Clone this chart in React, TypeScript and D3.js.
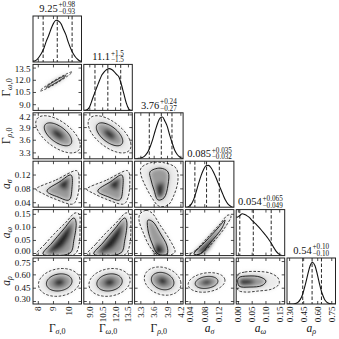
import { useEffect, useRef } from "react";
import * as d3 from "d3";

// ---- parameters (corner order) ----
const paramBase = ["Γ", "Γ", "Γ", "a", "a", "a"];
const paramSubGreek = ["σ", "ω", "ρ", "σ", "ω", "ρ"];
const paramSubRest = [",0", ",0", ",0", "", "", ""];

const ranges: [number, number][] = [
  [7.65, 10.85],
  [8.3, 13.95],
  [3.16, 4.25],
  [0.027, 0.16],
  [-0.008, 0.168],
  [0.272, 0.79],
];
const tickValues = [
  [8, 9, 10],
  [9.0, 10.5, 12.0, 13.5],
  [3.3, 3.6, 3.9, 4.2],
  [0.04, 0.08, 0.12],
  [0.0, 0.05, 0.1, 0.15],
  [0.3, 0.45, 0.6, 0.75],
];
const tickDigits = [0, 1, 1, 2, 2, 2];

// marginal summaries (median, +err, -err)
const medians = [9.25, 11.1, 3.76, 0.085, 0.054, 0.54];
const errUp = [0.98, 1.5, 0.24, 0.035, 0.065, 0.1];
const errDown = [0.93, 1.5, 0.27, 0.032, 0.049, 0.1];
const titleDigits = [2, 1, 2, 3, 3, 2];

// 1D histograms (20 equal bins over each range, normalised to peak)
const histGs = [0.02, 0.05, 0.12, 0.21, 0.33, 0.5, 0.64, 0.8, 0.93, 1.0, 0.98, 0.92, 0.79, 0.66, 0.48, 0.33, 0.21, 0.12, 0.06, 0.02];
const histGw = [0.0, 0.02, 0.1, 0.26, 0.42, 0.57, 0.72, 0.85, 0.93, 0.98, 1.0, 0.98, 0.93, 0.86, 0.8, 0.62, 0.4, 0.18, 0.04, 0.0];
const histGr = [0.0, 0.01, 0.02, 0.04, 0.09, 0.17, 0.3, 0.47, 0.67, 0.85, 0.97, 1.0, 0.9, 0.77, 0.56, 0.38, 0.21, 0.11, 0.05, 0.01];
const histAs = [0.0, 0.02, 0.08, 0.2, 0.38, 0.58, 0.76, 0.9, 0.99, 1.0, 0.95, 0.85, 0.72, 0.58, 0.44, 0.3, 0.17, 0.08, 0.03, 0.0];
const histAw = [0.92, 0.96, 1.0, 0.98, 0.95, 0.91, 0.84, 0.79, 0.73, 0.67, 0.6, 0.53, 0.46, 0.38, 0.29, 0.19, 0.1, 0.04, 0.01, 0.0];
const histAr = [0.0, 0.0, 0.0, 0.01, 0.04, 0.11, 0.24, 0.45, 0.69, 0.91, 1.0, 0.92, 0.71, 0.46, 0.25, 0.11, 0.04, 0.01, 0.0, 0.0];
const hists = [histGs, histGw, histGr, histAs, histAw, histAr];

// 2D posteriors that look gaussian: [row param, col param], centre, sd, correlation
const ellipseCells: [number, number][] = [[1, 0], [2, 0], [2, 1], [5, 0], [5, 1], [5, 2], [5, 3]];
const ellipseCenters = [[9.17, 11.85], [9.3, 3.74], [11.3, 3.74], [9.38, 0.515], [11.3, 0.515], [3.79, 0.53], [0.085, 0.515]];
const ellipseSds = [[0.43, 0.48], [0.6, 0.18], [1.02, 0.18], [0.56, 0.064], [0.98, 0.064], [0.168, 0.065], [0.0206, 0.045]];
const ellipseRho = [0.98, -0.6, -0.6, 0.15, 0.15, -0.2, 0.2];
const contourLevels = [0.95, 0.68, 0.2]; // outer (dashed), inner (solid), core shading

// skewed 2D posteriors, contours: [x, y] in data units
const asGsOuter = [[7.85, 0.0788], [9.17, 0.1057], [10.49, 0.133], [10.62, 0.129], [10.69, 0.091], [10.55, 0.0536], [10.29, 0.0363], [9.1, 0.0507], [8.24, 0.068]];
const asGsInner = [[8.57, 0.0737], [9.43, 0.101], [10.16, 0.12], [10.22, 0.0825], [10.03, 0.048], [9.3, 0.0565]];
const asGsCore = [[9.3, 0.094], [9.96, 0.111], [9.83, 0.077]];

const asGwOuter = [[8.65, 0.0788], [10.98, 0.1057], [13.31, 0.133], [13.54, 0.129], [13.66, 0.091], [13.43, 0.0536], [12.96, 0.0363], [10.86, 0.0507], [9.35, 0.068]];
const asGwInner = [[9.93, 0.0737], [11.45, 0.101], [12.73, 0.12], [12.84, 0.0825], [12.49, 0.048], [11.21, 0.0565]];
const asGwCore = [[11.21, 0.094], [12.38, 0.111], [12.14, 0.077]];

const awGsOuter = [[7.88, -0.003], [8.44, 0.036], [9.1, 0.078], [9.83, 0.12], [10.42, 0.155], [10.69, 0.151], [10.75, 0.098], [10.69, 0.036], [10.42, -0.002], [9.1, -0.006]];
const awGsInner = [[8.31, -0.002], [8.9, 0.04], [9.63, 0.09], [10.35, 0.136], [10.49, 0.12], [10.35, 0.052], [10.09, 0.002]];
const awGsCore = [[8.64, 0.004], [9.3, 0.059], [10.09, 0.113], [10.16, 0.082], [9.56, 0.021]];

const awGwOuter = [[8.71, -0.003], [9.7, 0.036], [10.86, 0.078], [12.14, 0.12], [13.19, 0.155], [13.66, 0.151], [13.78, 0.098], [13.66, 0.036], [13.19, -0.002], [10.86, -0.006]];
const awGwInner = [[9.47, -0.002], [10.51, 0.04], [11.8, 0.09], [13.08, 0.136], [13.31, 0.12], [13.08, 0.052], [12.61, 0.002]];
const awGwCore = [[10.05, 0.004], [11.21, 0.059], [12.61, 0.113], [12.73, 0.082], [11.68, 0.021]];

const asGrOuter = [[3.304, 0.14], [3.506, 0.155], [3.843, 0.155], [4.09, 0.14], [4.135, 0.106], [4.045, 0.062], [3.91, 0.033], [3.708, 0.03], [3.551, 0.054], [3.394, 0.091], [3.304, 0.12]];
const asGrInner = [[3.506, 0.129], [3.731, 0.14], [3.91, 0.129], [3.91, 0.091], [3.821, 0.054], [3.686, 0.048], [3.596, 0.077], [3.529, 0.106]];
const asGrCore = [[3.663, 0.091], [3.798, 0.097], [3.776, 0.059], [3.663, 0.059]];

const awGrOuter = [[3.281, 0.151], [3.416, 0.165], [3.551, 0.155], [3.731, 0.109], [3.955, 0.051], [4.068, 0.006], [3.955, -0.006], [3.686, -0.006], [3.506, 0.025], [3.349, 0.082], [3.259, 0.128]];
const awGrInner = [[3.461, 0.128], [3.573, 0.121], [3.731, 0.079], [3.888, 0.029], [3.888, -0.002], [3.686, -0.002], [3.551, 0.04], [3.461, 0.09]];
const awGrCore = [[3.618, 0.033], [3.776, 0.029], [3.798, -0.002], [3.618, -0.002]];

const awAsOuter = [[0.0369, -0.006], [0.0561, 0.0134], [0.089, 0.0632], [0.1219, 0.1129], [0.1438, 0.1473], [0.152, 0.1435], [0.1383, 0.1053], [0.1082, 0.0517], [0.0753, 0.0058], [0.0561, -0.006]];
const awAsInner = [[0.0506, -0.002], [0.0835, 0.0479], [0.1164, 0.0976], [0.1356, 0.1282], [0.1274, 0.0976], [0.0945, 0.0402], [0.067, -0.002]];
const awAsCore = [[0.0615, 0.0058], [0.1, 0.0632], [0.1191, 0.09], [0.1054, 0.0517], [0.0753, 0.002]];

const arAwOuter = [[-0.0033, 0.599], [0.0239, 0.632], [0.0711, 0.638], [0.1147, 0.621], [0.1437, 0.565], [0.1473, 0.497], [0.1219, 0.441], [0.0711, 0.418], [0.0239, 0.407], [-0.0015, 0.43]];
const arAwInner = [[0.0003, 0.565], [0.0348, 0.587], [0.0784, 0.576], [0.1001, 0.531], [0.0856, 0.48], [0.0421, 0.463], [0.0022, 0.475]];
const arAwCore = [[0.004, 0.542], [0.0421, 0.548], [0.0602, 0.52], [0.0348, 0.486], [0.0058, 0.492]];

const polygonCells: [number, number][] = [[3, 0], [3, 1], [4, 0], [4, 1], [3, 2], [4, 2], [4, 3], [5, 4]];
const polygonContours = [
  [asGsOuter, asGsInner, asGsCore],
  [asGwOuter, asGwInner, asGwCore],
  [awGsOuter, awGsInner, awGsCore],
  [awGwOuter, awGwInner, awGwCore],
  [asGrOuter, asGrInner, asGrCore],
  [awGrOuter, awGrInner, awGrCore],
  [awAsOuter, awAsInner, awAsCore],
  [arAwOuter, arAwInner, arAwCore],
];

const FONT = "'Liberation Serif', 'DejaVu Serif', serif";
const LEFT = 33;
const TOP = 16;
const PITCH_X = 50.8;
const PITCH_Y = 48.4;
const PW = 48.5;
const PH = 46;
const shadeColors = ["#ebebeb", "#9a9a9a", "#222222"];

function ellipsePoints(c: number[], sd: number[], rho: number, level: number) {
  const k = Math.sqrt(-2 * Math.log(1 - level));
  const s = Math.sqrt(1 - rho * rho);
  return d3.range(0, 72).map((i) => {
    const t = (i / 72) * 2 * Math.PI;
    const u = Math.cos(t);
    const v = Math.sin(t);
    return [c[0] + k * sd[0] * u, c[1] + k * sd[1] * (rho * u + s * v)];
  });
}

export default function App() {
  const ref = useRef<SVGSVGElement>(null);

  useEffect(() => {
    const svg = d3.select(ref.current);
    svg.selectAll("*").remove();
    const defs = svg.append("defs");
    defs
      .append("filter")
      .attr("id", "soft")
      .attr("x", "-30%")
      .attr("y", "-30%")
      .attr("width", "160%")
      .attr("height", "160%")
      .append("feGaussianBlur")
      .attr("stdDeviation", 2);

    const colX = (c: number) => LEFT + c * PITCH_X;
    const rowY = (r: number) => TOP + r * PITCH_Y;
    const xScale = (p: number, c: number) =>
      d3.scaleLinear().domain(ranges[p]).range([colX(c), colX(c) + PW]);
    const yScale = (p: number, r: number) =>
      d3.scaleLinear().domain(ranges[p]).range([rowY(r) + PH, rowY(r)]);

    const frame = (r: number, c: number, xs: any, ys: any | null) => {
      const x0 = colX(c), y0 = rowY(r);
      const g = svg.append("g");
      tickValues[c].forEach((v) => {
        const x = xs(v);
        g.append("line").attr("x1", x).attr("x2", x).attr("y1", y0).attr("y2", y0 + 3);
        g.append("line").attr("x1", x).attr("x2", x).attr("y1", y0 + PH).attr("y2", y0 + PH - 3);
      });
      if (ys) {
        tickValues[r].forEach((v) => {
          const y = ys(v);
          g.append("line").attr("x1", x0).attr("x2", x0 + 3).attr("y1", y).attr("y2", y);
          g.append("line").attr("x1", x0 + PW).attr("x2", x0 + PW - 3).attr("y1", y).attr("y2", y);
        });
      }
      g.selectAll("line").attr("stroke", "#222").attr("stroke-width", 0.8);
      g.append("rect")
        .attr("x", x0).attr("y", y0).attr("width", PW).attr("height", PH)
        .attr("fill", "none").attr("stroke", "#222").attr("stroke-width", 1);
    };

    const clip = (id: string, r: number, c: number) => {
      defs.append("clipPath").attr("id", id).append("rect")
        .attr("x", colX(c)).attr("y", rowY(r)).attr("width", PW).attr("height", PH);
      return `url(#${id})`;
    };

    // ---- diagonal: 1D marginals ----
    for (let i = 0; i < 6; i++) {
      const xs = xScale(i, i);
      const ys = d3.scaleLinear().domain([0, 1.1]).range([rowY(i) + PH, rowY(i)]);
      const n = hists[i].length;
      const w = (ranges[i][1] - ranges[i][0]) / n;
      const pts = hists[i].map((v, k) => [ranges[i][0] + (k + 0.5) * w, v]);
      pts.unshift([ranges[i][0], hists[i][0]]);
      pts.push([ranges[i][1], hists[i][n - 1]]);
      const line = d3.line<number[]>().x((d) => xs(d[0])).y((d) => ys(d[1])).curve(d3.curveMonotoneX);
      const g = svg.append("g").attr("clip-path", clip(`d${i}`, i, i));
      g.append("path").attr("d", line(pts)).attr("fill", "none").attr("stroke", "#111").attr("stroke-width", 1.1);
      [medians[i] - errDown[i], medians[i], medians[i] + errUp[i]].forEach((q) => {
        g.append("line").attr("x1", xs(q)).attr("x2", xs(q)).attr("y1", rowY(i)).attr("y2", rowY(i) + PH)
          .attr("stroke", "#111").attr("stroke-width", 0.9).attr("stroke-dasharray", "3.5,2");
      });
      frame(i, i, xs, null);

      // title: median with asymmetric errors
      const fmt = d3.format(`.${titleDigits[i]}f`);
      const t = svg.append("g").attr("font-family", FONT).attr("fill", "#111");
      const base = t.append("text").attr("font-size", 10.5).attr("y", 0).text(fmt(medians[i]));
      const bw = (base.node() as SVGTextElement).getComputedTextLength();
      const up = t.append("text").attr("font-size", 7.2).attr("x", bw + 0.8).attr("y", -4.4).text("+" + fmt(errUp[i]));
      const dn = t.append("text").attr("font-size", 7.2).attr("x", bw + 0.8).attr("y", 2.3).text("−" + fmt(errDown[i]));
      const sw = Math.max(
        (up.node() as SVGTextElement).getComputedTextLength(),
        (dn.node() as SVGTextElement).getComputedTextLength()
      );
      const cx = colX(i) + PW / 2;
      t.attr("transform", `translate(${cx - (bw + 0.8 + sw) / 2},${rowY(i) - 4.3})`);
    }

    // ---- off-diagonal: 2D contours ----
    const smooth = (xs: any, ys: any) =>
      d3.line<number[]>().x((d) => xs(d[0])).y((d) => ys(d[1])).curve(d3.curveCatmullRomClosed.alpha(0.5));

    const draw2d = (r: number, c: number, shapes: number[][][], id: string) => {
      const xs = xScale(c, c);
      const ys = yScale(r, r);
      const path = smooth(xs, ys);
      const g = svg.append("g").attr("clip-path", clip(id, r, c));
      const shade = g.append("g").attr("filter", "url(#soft)");
      shapes.forEach((s, k) => shade.append("path").attr("d", path(s)).attr("fill", shadeColors[k]));
      g.append("path").attr("d", path(shapes[0])).attr("fill", "none").attr("stroke", "#111")
        .attr("stroke-width", 0.8).attr("stroke-dasharray", "2.6,1.6");
      g.append("path").attr("d", path(shapes[1])).attr("fill", "none").attr("stroke", "#111").attr("stroke-width", 0.9);
      frame(r, c, xs, ys);
    };

    ellipseCells.forEach(([r, c], k) => {
      const shapes = contourLevels.map((lv) => ellipsePoints(ellipseCenters[k], ellipseSds[k], ellipseRho[k], lv));
      draw2d(r, c, shapes, `e${k}`);
    });
    polygonCells.forEach(([r, c], k) => draw2d(r, c, polygonContours[k], `p${k}`));

    // ---- tick labels ----
    const lab = svg.append("g").attr("font-family", FONT).attr("font-size", 9).attr("fill", "#111");
    for (let r = 1; r < 6; r++) {
      const ys = yScale(r, r);
      const fmt = d3.format(`.${tickDigits[r]}f`);
      const y0 = rowY(r);
      tickValues[r].forEach((v) => {
        // keep the label inside its own row so neighbouring rows do not collide
        const y = Math.max(y0 + 4.6, Math.min(y0 + PH - 4.6, ys(v)));
        lab.append("text").attr("x", LEFT - 2.5).attr("y", y).attr("dy", "0.33em")
          .attr("text-anchor", "end").text(fmt(v));
      });
    }
    for (let c = 0; c < 6; c++) {
      const xs = xScale(c, c);
      const fmt = d3.format(`.${tickDigits[c]}f`);
      tickValues[c].forEach((v) => {
        lab.append("text").attr("transform", `translate(${xs(v)},${rowY(5) + PH + 2.5}) rotate(-90)`)
          .attr("dy", "0.33em").attr("text-anchor", "end").text(fmt(v));
      });
    }

    // ---- axis labels ----
    const axisLabel = (g: any, p: number) => {
      g.append("tspan").attr("font-style", paramBase[p] === "a" ? "italic" : "normal").text(paramBase[p]);
      g.append("tspan").attr("font-size", 8).attr("dy", 2.4).attr("font-style", "italic").text(paramSubGreek[p]);
      if (paramSubRest[p]) g.append("tspan").attr("font-size", 8).text(paramSubRest[p]);
    };
    for (let r = 1; r < 6; r++) {
      const t = svg.append("text").attr("font-family", FONT).attr("font-size", 11.5).attr("fill", "#111")
        .attr("text-anchor", "middle")
        .attr("transform", `translate(10,${rowY(r) + PH / 2}) rotate(-90)`);
      axisLabel(t, r);
    }
    for (let c = 0; c < 6; c++) {
      const t = svg.append("text").attr("font-family", FONT).attr("font-size", 11.5).attr("fill", "#111")
        .attr("text-anchor", "middle").attr("x", colX(c) + PW / 2).attr("y", 332);
      axisLabel(t, c);
    }
  }, []);

  return (
    <svg
      ref={ref}
      width={339}
      height={339}
      style={{ position: "absolute", left: 0, top: 0, background: "#fff" }}
    />
  );
}
